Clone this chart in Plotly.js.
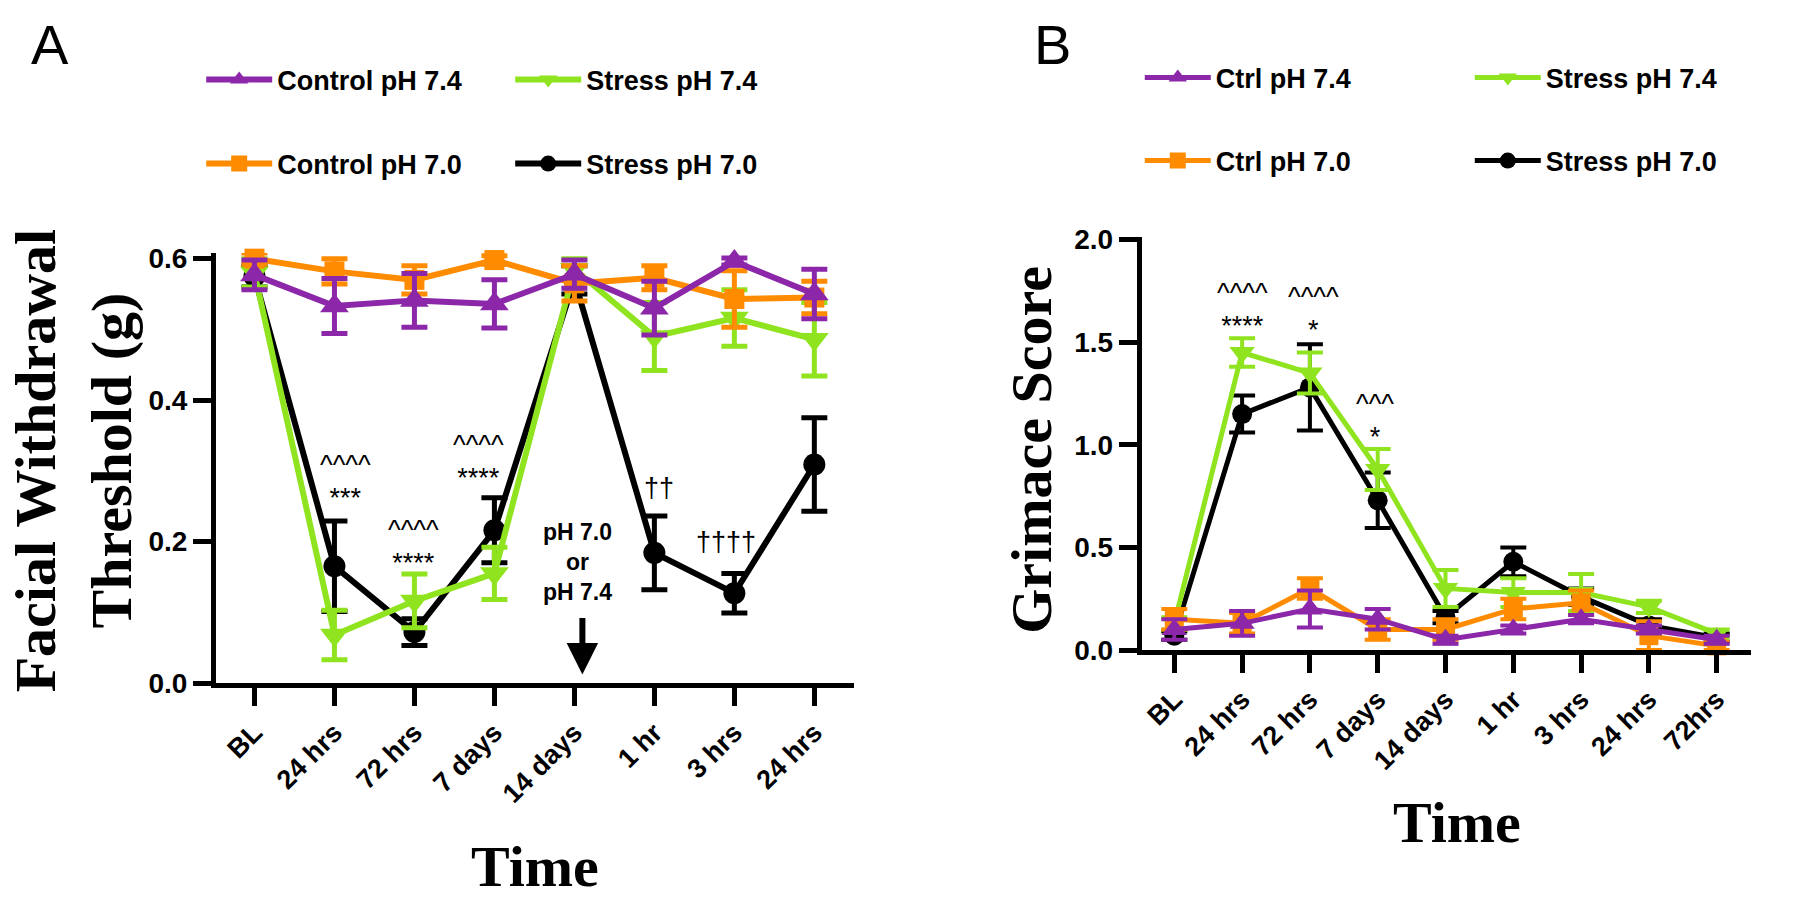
<!DOCTYPE html>
<html>
<head>
<meta charset="utf-8">
<script src="https://cdn.plot.ly/plotly-3.0.1.min.js"></script>
<style>html,body{margin:0;padding:0;background:#fff;}#chart{width:1800px;height:899px;}</style>
</head>
<body>
<div id="chart"></div>
<script>
// ---------- Panel A data ----------
const catsA = ["BL", "24 hrs", "72 hrs", "7 days", "14 days", "1 hr", "3 hrs", "24 hrs"];
const ctrl74A = [0.577, 0.533, 0.541, 0.536, 0.578, 0.530, 0.596, 0.550];
const ctrl74AErr = [0.021, 0.039, 0.038, 0.034, 0.020, 0.038, 0.005, 0.035];
const ctrl70A = [0.600, 0.582, 0.570, 0.598, 0.565, 0.573, 0.543, 0.545];
const ctrl70AErr = [0.008, 0.018, 0.020, 0.006, 0.025, 0.017, 0.040, 0.023];
const stress74A = [0.580, 0.068, 0.116, 0.155, 0.585, 0.490, 0.516, 0.486];
const stress74AErr = [0.020, 0.035, 0.038, 0.037, 0.015, 0.048, 0.040, 0.052];
const stress70A = [0.575, 0.165, 0.072, 0.216, 0.570, 0.184, 0.127, 0.309];
const stress70AErr = [0.015, 0.064, 0.019, 0.046, 0.020, 0.052, 0.028, 0.066];

// ---------- Panel B data ----------
const catsB = ["BL", "24 hrs", "72 hrs", "7 days", "14 days", "1 hr", "3 hrs", "24 hrs", "72hrs"];
const ctrl74B = [0.10, 0.13, 0.20, 0.15, 0.05, 0.10, 0.15, 0.10, 0.05];
const ctrl74BErr = [0.05, 0.06, 0.09, 0.05, 0.02, 0.02, 0.02, 0.02, 0.02];
const ctrl70B = [0.15, 0.13, 0.30, 0.10, 0.10, 0.20, 0.23, 0.07, 0.02];
const ctrl70BErr = [0.05, 0.05, 0.05, 0.05, 0.05, 0.05, 0.06, 0.07, 0.02];
const stress74B = [0.13, 1.45, 1.35, 0.88, 0.30, 0.28, 0.28, 0.21, 0.08];
const stress74BErr = [0.03, 0.07, 0.10, 0.10, 0.09, 0.07, 0.09, 0.03, 0.02];
const stress70B = [0.07, 1.15, 1.28, 0.73, 0.16, 0.43, 0.26, 0.12, 0.06];
const stress70BErr = [0.02, 0.09, 0.21, 0.135, 0.03, 0.07, 0.04, 0.03, 0.02];

// ---------- labels ----------
const namesA = {c74: "Control pH 7.4", s74: "Stress pH 7.4", c70: "Control pH 7.0", s70: "Stress pH 7.0"};
const namesB = {c74: "Ctrl pH 7.4", s74: "Stress pH 7.4", c70: "Ctrl pH 7.0", s70: "Stress pH 7.0"};
const yTitleA = "Facial Withdrawal<br>Threshold (g)";
const yTitleB = "Grimace Score";
const xTitle = "Time";

// significance marks: [category position, value, lines of text]
const sigA = [
  [1.14, 0.2855, ["^^^^", "***"]],
  [1.99, 0.1925, ["^^^^", "****"]],
  [2.80, 0.3135, ["^^^^", "****"]],
  [5.06, 0.276, ["††"]],
  [5.90, 0.200, ["††††"]]
];
const sigB = [
  [1.01, 1.659, ["^^^^", "****"]],
  [2.05, 1.640, ["^^^^", "*"]],
  [2.96, 1.118, ["^^^", "*"]]
];
const phNote = {x: 4.04, y: 0.171, text: "pH 7.0<br>or<br>pH 7.4"};
const phArrow = {x: 4.10, yTail: 0.094, yHead: 0.012};

// ---------- styling ----------
const COL = {purple: "#8B27A8", orange: "#FF8C00", green: "#8FE41F", black: "#000000"};
const W = 1800, H = 899;
const px = v => v / W;
const py = v => 1 - v / H;
const idx = a => a.map((_, i) => i);

function tr(x, y, err, color, symbol, size, name, xa, ya, legend, rank, lw, et) {
  return {
    type: "scatter", mode: "lines+markers", x: x, y: y, name: name,
    xaxis: xa, yaxis: ya, legend: legend, legendrank: rank, cliponaxis: false,
    line: {color: color, width: lw},
    marker: {color: color, symbol: symbol, size: size},
    error_y: {type: "data", array: err, visible: true, color: color, thickness: et, width: 13}
  };
}

const xA = idx(catsA), xB = idx(catsB);
const data = [
  tr(xA, stress70A, stress70AErr, COL.black, "circle", 22, namesA.s70, "x", "y", "legend2", 2, 6, 5),
  tr(xA, stress74A, stress74AErr, COL.green, "triangle-down", 25, namesA.s74, "x", "y", "legend", 2, 6, 5),
  tr(xA, ctrl70A, ctrl70AErr, COL.orange, "square", 20, namesA.c70, "x", "y", "legend2", 1, 6, 5),
  tr(xA, ctrl74A, ctrl74AErr, COL.purple, "triangle-up", 25, namesA.c74, "x", "y", "legend", 1, 6, 5),
  tr(xB, stress70B, stress70BErr, COL.black, "circle", 20, namesB.s70, "x2", "y2", "legend4", 2, 5, 4),
  tr(xB, stress74B, stress74BErr, COL.green, "triangle-down", 22, namesB.s74, "x2", "y2", "legend3", 2, 5, 4),
  tr(xB, ctrl70B, ctrl70BErr, COL.orange, "square", 19, namesB.c70, "x2", "y2", "legend4", 1, 5, 4),
  tr(xB, ctrl74B, ctrl74BErr, COL.purple, "triangle-up", 22, namesB.c74, "x2", "y2", "legend3", 1, 5, 4)
];

const SANS = "Liberation Sans, Arial, sans-serif";
const SERIF = "Liberation Serif, Times New Roman, serif";
const tickFont = {family: SANS, size: 27, color: "#000", weight: "bold"};

function xaxisCfg(domain, range, cats) {
  return {
    domain: domain, range: range, tickmode: "array", tickvals: idx(cats), ticktext: cats,
    tickangle: -45, ticks: "outside", ticklen: 18, tickwidth: 5, tickcolor: "#000",
    showline: true, linewidth: 5, linecolor: "#000", showgrid: false, zeroline: false,
    tickfont: tickFont, fixedrange: true
  };
}
function yaxisCfg(domain, range, dtick, anchor) {
  return {
    domain: domain, range: range, tick0: 0, dtick: dtick, tickformat: ".1f",
    ticks: "outside", ticklen: 18, tickwidth: 5, tickcolor: "#000",
    showline: true, linewidth: 5, linecolor: "#000", showgrid: false, zeroline: false,
    tickfont: {family: SANS, size: 28, color: "#000", weight: "bold"}, fixedrange: true, anchor: anchor
  };
}

const legFont = {family: SANS, size: 27, color: "#000", weight: "bold"};
function legCfg(x, y, ew) {
  return {x: px(x), y: py(y), xanchor: "left", yanchor: "middle", orientation: "h",
    font: legFont, itemwidth: 66, entrywidth: ew, entrywidthmode: "pixels",
    bgcolor: "rgba(0,0,0,0)", traceorder: "normal", itemclick: false, itemdoubleclick: false};
}

const annotations = [];
// line spacing comes from the base font size (1.3 * 25 px); glyphs drawn at 27 px
const sigText = lines => lines.map(l => '<span style="font-size:27px">' + l + '</span>').join("<br>");
sigA.forEach(s => annotations.push({xref: "x", yref: "y", x: s[0], y: s[1], text: sigText(s[2]),
  showarrow: false, font: {family: SANS, size: 25, color: "#000"}}));
sigB.forEach(s => annotations.push({xref: "x2", yref: "y2", x: s[0], y: s[1], text: sigText(s[2]),
  showarrow: false, font: {family: SANS, size: 25, color: "#000"}}));
annotations.push({xref: "x", yref: "y", x: phNote.x, y: phNote.y, text: phNote.text, showarrow: false,
  font: {family: SANS, size: 23, color: "#000", weight: "bold"}});
annotations.push({xref: "x", yref: "y", axref: "x", ayref: "y", x: phArrow.x, y: phArrow.yHead,
  ax: phArrow.x, ay: phArrow.yTail, text: "", showarrow: true, arrowhead: 2, arrowsize: 1.05,
  arrowwidth: 6, arrowcolor: "#000"});
// panel letters
annotations.push({xref: "paper", yref: "paper", x: px(50), y: py(45), text: "A", showarrow: false,
  xanchor: "center", yanchor: "middle", font: {family: SANS, size: 56, color: "#000"}});
annotations.push({xref: "paper", yref: "paper", x: px(1062), y: py(45), text: "B", showarrow: false,
  xanchor: "center", yanchor: "middle", font: {family: SANS, size: 56, color: "#000"}});
// axis titles
const titleFont = {family: SERIF, size: 58, color: "#000", weight: "bold"};
annotations.push({xref: "paper", yref: "paper", x: px(540), y: py(866), text: xTitle, showarrow: false,
  xanchor: "center", yanchor: "middle", font: titleFont});
annotations.push({xref: "paper", yref: "paper", x: px(1470), y: py(822), text: xTitle, showarrow: false,
  xanchor: "center", yanchor: "middle", font: titleFont});
annotations.push({xref: "paper", yref: "paper", x: px(74), y: py(460), text: yTitleA, showarrow: false,
  textangle: -90, xanchor: "center", yanchor: "middle", font: titleFont});
annotations.push({xref: "paper", yref: "paper", x: px(1040), y: py(450), text: yTitleB, showarrow: false,
  textangle: -90, xanchor: "center", yanchor: "middle", font: titleFont});

const layout = {
  width: W, height: H, margin: {l: 0, r: 0, t: 0, b: 0},
  paper_bgcolor: "#fff", plot_bgcolor: "#fff", showlegend: true,
  xaxis: xaxisCfg([px(218), px(862)], [-0.48, 7.5], catsA),
  yaxis: yaxisCfg([py(683), py(253)], [0, 0.608], 0.2, "x"),
  xaxis2: Object.assign(xaxisCfg([px(1152), px(1767)], [-0.48, 8.51], catsB), {anchor: "y2"}),
  yaxis2: yaxisCfg([py(650), py(237)], [0, 2.013], 0.5, "x2"),
  legend: legCfg(203, 80, 228),
  legend2: legCfg(203, 164, 228),
  legend3: legCfg(1150, 78, 249),
  legend4: legCfg(1150, 161, 249),
  annotations: annotations
};

Plotly.newPlot("chart", data, layout, {displayModeBar: false, staticPlot: true});
</script>
</body>
</html>
